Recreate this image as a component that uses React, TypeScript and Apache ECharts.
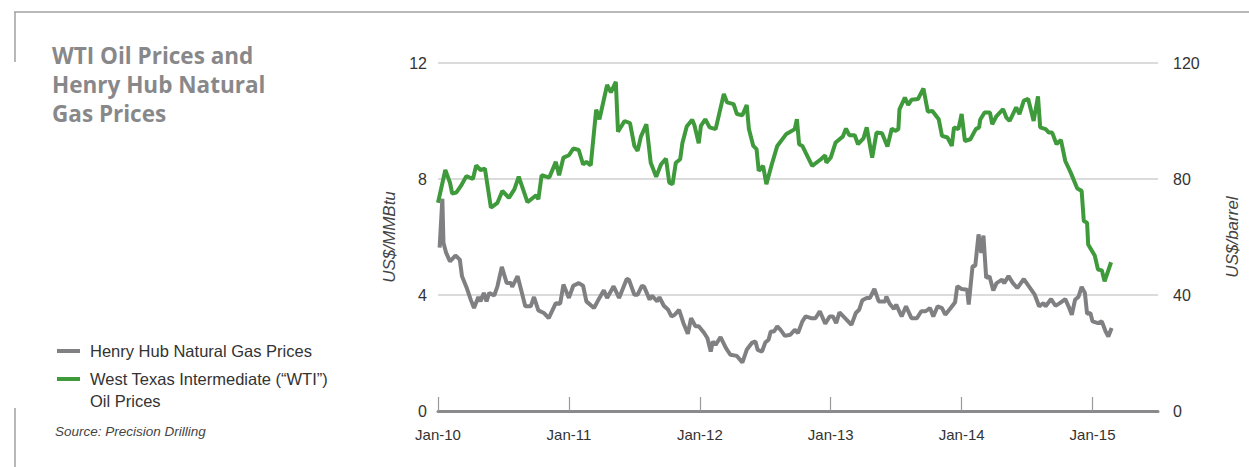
import React, { useEffect, useRef } from "react";
import * as echarts from "echarts";

// Months since Jan 2010
const xTickMonths = [0, 12, 24, 36, 48, 60];
const xTickLabels = ["Jan-10", "Jan-11", "Jan-12", "Jan-13", "Jan-14", "Jan-15"];

const gasMonths = [
  0.15, 0.4, 0.5, 0.75, 1.1, 1.6, 2, 2.2, 2.6, 3.0, 3.3, 3.7, 3.9, 4.2, 4.45, 4.7, 5.15, 5.45, 5.85, 6.3,
  6.7, 6.8, 7.3, 7.6, 8.0, 8.5, 8.8, 9.2, 9.7, 10.15, 10.8, 11.2, 11.5, 12, 12.4, 12.9, 13.3, 13.6, 14.3, 14.8,
  15.2, 15.5, 16.1, 16.6, 17.3, 17.5, 18, 18.3, 18.7, 18.9, 19.4, 19.6, 20.1, 20.3, 20.7, 21.1, 21.4, 21.7, 22.1, 22.5,
  22.9, 23.2, 23.6, 23.9, 24.4, 24.7, 25, 25.2, 25.45, 25.9, 26.4, 26.8, 27.4, 27.9, 28.3, 28.8, 29.1, 29.3, 29.7, 30,
  30.3, 30.5, 30.8, 31.1, 31.4, 31.8, 32.3, 32.7, 33, 33.4, 33.7, 34.2, 34.6, 35, 35.5, 35.9, 36.2, 36.5, 36.8, 37.4,
  37.9, 38.3, 38.6, 38.9, 39.3, 39.6, 40, 40.4, 41, 41.1, 41.4, 41.8, 42, 42.5, 42.9, 43.4, 43.9, 44.3, 44.7, 45.1,
  45.4, 45.8, 46.2, 46.5, 47, 47.4, 47.6, 48, 48.5, 48.65, 49, 49.25, 49.55, 49.8, 50, 50.25, 50.55, 50.9, 51.2, 51.7,
  51.9, 52.3, 52.7, 53.1, 53.7, 54.2, 54.7, 55.1, 55.5, 55.7, 56.2, 56.6, 57, 57.5, 57.8, 58.1, 58.4, 58.7, 59, 59.3,
  59.5, 59.8, 60, 60.5, 60.85, 61.2, 61.45, 61.75,
];
const gasValues = [
  5.63, 7.32, 5.8, 5.45, 5.16, 5.36, 5.22, 4.65, 4.28, 3.84, 3.55, 3.93, 3.78, 4.07, 3.78, 4.07, 3.98, 4.3, 4.97, 4.41,
  4.41, 4.28, 4.65, 4.21, 3.61, 3.61, 3.93, 3.47, 3.38, 3.2, 3.72, 3.7, 4.36, 3.9, 4.32, 4.41, 4.32, 3.78, 3.55, 3.9,
  4.16, 3.9, 4.3, 3.9, 4.55, 4.53, 4.01, 4.01, 4.32, 4.28, 3.84, 3.98, 3.78, 3.93, 3.63, 3.49, 3.26, 3.32, 3.49, 3.03,
  2.66, 3.2, 2.92, 2.92, 2.69, 2.51, 2.05, 2.4, 2.28, 2.55, 2.17, 1.94, 1.9, 1.67, 2.11, 2.36, 2.4, 2.11, 2.05, 2.36,
  2.46, 2.74, 2.74, 2.92, 2.8, 2.59, 2.63, 2.8, 2.69, 3.09, 3.26, 3.2, 3.2, 3.44, 3.01, 3.26, 3.26, 3.03, 3.4, 3.17,
  2.97, 3.38, 3.49, 3.82, 3.9, 3.9, 4.21, 3.78, 3.78, 3.95, 3.7, 3.52, 3.67, 3.26, 3.61, 3.2, 3.2, 3.44, 3.44, 3.55,
  3.26, 3.61, 3.55, 3.32, 3.55, 3.75, 4.3, 4.21, 4.18, 3.67, 4.99, 5.01, 6.09, 5.45, 6.05, 4.59, 4.65, 4.16, 4.41, 4.53,
  4.41, 4.65, 4.41, 4.24, 4.55, 4.28, 4.01, 3.61, 3.72, 3.61, 3.86, 3.63, 3.72, 3.86, 3.61, 3.32, 3.84, 3.93, 4.28, 4.07,
  3.35, 3.38, 3.09, 3.03, 3.09, 2.74, 2.57, 2.86,
];

const oilMonths = [
  0, 0.67, 1.1, 1.3, 1.67, 2.1, 2.6, 3.2, 3.5, 3.9, 4.3, 4.85, 5.45, 5.9, 6.5, 7.0, 7.4, 8.2, 9.0, 9.2,
  9.5, 10.2, 10.8, 11.1, 11.5, 12, 12.4, 12.9, 13.3, 13.6, 14, 14.5, 14.8, 15.5, 15.85, 16.3, 16.5, 17.1, 17.6, 18,
  18.3, 18.6, 19.1, 19.5, 20, 20.45, 20.9, 21.2, 21.5, 21.8, 22.2, 22.4, 22.8, 23.3, 23.5, 23.9, 24.1, 24.5, 24.9, 25.45,
  26.2, 26.5, 27.1, 27.4, 27.9, 28.3, 28.5, 28.9, 29.2, 29.4, 29.8, 30.1, 30.6, 31.1, 31.9, 32.7, 32.9, 33.1, 33.4, 33.7,
  34.3, 35.1, 35.5, 35.6, 36, 36.45, 37.1, 37.4, 37.7, 38.2, 38.5, 39, 39.3, 39.8, 40.2, 40.7, 41.2, 41.6, 41.9, 42.2,
  42.3, 42.8, 43.1, 43.4, 44, 44.5, 44.9, 45.3, 45.9, 46.2, 46.7, 47.1, 47.3, 47.7, 48, 48.3, 48.8, 49.3, 49.6, 49.7,
  50.1, 50.6, 50.8, 51.2, 51.8, 52.1, 52.4, 53, 53.3, 53.7, 54.1, 54.6, 55, 55.2, 55.7, 56, 56.3, 56.7, 57.1, 57.5,
  58, 58.6, 59, 59.2, 59.5, 59.6, 60.2, 60.5, 60.85, 61.1, 61.7,
];
const oilValues = [
  71.8, 83.1, 78.7, 75, 75.3, 77.6, 81, 80, 84.7, 83.1, 83.6, 70.1, 71.8, 75.9, 73.5, 76.4, 80.8, 72, 74.4, 73,
  81.3, 80.5, 85.9, 81.3, 87.4, 88.2, 90.5, 90, 85, 85.9, 84.7, 103.9, 100.6, 112.4, 109.9, 113.5, 96.3, 100, 99.3, 91.4,
  89.7, 94.6, 98.9, 85.6, 80.8, 85.1, 87, 78.7, 78.2, 85.6, 86.8, 92.3, 98.1, 100.4, 98.6, 92.3, 98.3, 100.6, 97.8, 97.2,
  109.3, 106.4, 105.8, 102.4, 102, 105.5, 97.2, 91.4, 90.3, 82.8, 84.5, 78.2, 85.1, 91.4, 95.4, 97.2, 100.6, 92, 91.4, 89.1,
  84.5, 86.8, 88.2, 85.6, 87.4, 92.6, 94.6, 97.4, 95.1, 95.1, 92, 94, 97.8, 87.4, 96, 95.8, 91.2, 97.4, 96.6, 97.2,
  104, 108.1, 105.5, 107.3, 107.6, 111.2, 103.2, 103.5, 100.6, 94.9, 94.3, 91.4, 97.8, 97.2, 102.4, 93.1, 93.7, 97.2, 97.8, 100.4,
  102.9, 102.9, 98.9, 101.7, 104.1, 101.2, 100, 104.7, 102.4, 107, 107.6, 100, 108.5, 97.8, 97.2, 96, 96, 92, 93.5, 86.2,
  82.2, 76.7, 75.9, 65.5, 64.9, 57.4, 53.6, 48.8, 48.5, 44.7, 51.3,
];

const leftTicks = [0, 4, 8, 12];
const rightTicks = [0, 40, 80, 120];

const GAS_COLOR = "#808083";
const OIL_COLOR = "#3f9a3b";
const FONT = "'Liberation Sans', Arial, sans-serif";

export default function App() {
  const ref = useRef<HTMLDivElement>(null);
  useEffect(() => {
    document.documentElement.style.overflow = "hidden";
    document.body.style.margin = "0";
    if (!ref.current) return;
    const chart = echarts.init(ref.current, undefined, { renderer: "svg" });
    const gasData = gasMonths.map((m, i) => [m, gasValues[i]]);
    const oilData = oilMonths.map((m, i) => [m, oilValues[i]]);
    chart.setOption({
      animation: false,
      backgroundColor: "#ffffff",
      title: {
        text: "WTI Oil Prices and\nHenry Hub Natural\nGas Prices",
        left: 47,
        top: 36,
        textStyle: {
          fontFamily: "'Open Sans', 'Noto Sans', sans-serif",
          fontWeight: "bold",
          fontSize: 22.5,
          lineHeight: 28.8,
          color: "#88888a",
        },
      },
      grid: { left: 438, right: 83, top: 63, bottom: 56, containLabel: false },
      xAxis: {
        type: "value",
        min: 0,
        max: 66,
        interval: 12,
        axisLine: { show: true, lineStyle: { color: "#8a8a8c", width: 3 } },
        axisTick: {
          show: true,
          inside: true,
          length: 14,
          customValues: xTickMonths,
          lineStyle: { color: "#9a9a9a", width: 1.2 },
        },
        axisLabel: {
          customValues: xTickMonths,
          formatter: (v: number) => xTickLabels[xTickMonths.indexOf(v)] ?? "",
          color: "#333",
          fontSize: 15,
          fontFamily: FONT,
          margin: 16,
        },
        splitLine: { show: false },
      },
      yAxis: [
        {
          type: "value",
          min: leftTicks[0],
          max: leftTicks[leftTicks.length - 1],
          interval: 4,
          position: "left",
          name: "US$/MMBtu",
          nameLocation: "middle",
          nameRotate: 90,
          nameGap: 40,
          nameTextStyle: { fontStyle: "italic", fontSize: 17, color: "#444", fontFamily: FONT },
          axisLine: { show: false },
          axisTick: { show: false },
          axisLabel: { color: "#333", fontSize: 16, fontFamily: FONT, margin: 11 },
          splitLine: { show: true, lineStyle: { color: "#cfcfcf", width: 1.5 } },
        },
        {
          type: "value",
          min: rightTicks[0],
          max: rightTicks[rightTicks.length - 1],
          interval: 40,
          position: "right",
          name: "US$/barrel",
          nameLocation: "middle",
          nameRotate: 90,
          nameGap: 66,
          nameTextStyle: { fontStyle: "italic", fontSize: 17, color: "#444", fontFamily: FONT },
          axisLine: { show: false },
          axisTick: { show: false },
          axisLabel: { color: "#333", fontSize: 16, fontFamily: FONT, margin: 15 },
          splitLine: { show: false },
        },
      ],
      series: [
        {
          name: "Henry Hub Natural Gas Prices",
          type: "line",
          yAxisIndex: 0,
          data: gasData,
          showSymbol: false,
          lineStyle: { color: GAS_COLOR, width: 4 },
          itemStyle: { color: GAS_COLOR },
          z: 3,
        },
        {
          name: "West Texas Intermediate (“WTI”) Oil Prices",
          type: "line",
          yAxisIndex: 1,
          data: oilData,
          showSymbol: false,
          lineStyle: { color: OIL_COLOR, width: 4 },
          itemStyle: { color: OIL_COLOR },
          z: 4,
        },
      ],
      graphic: [
        { type: "line", shape: { x1: 14, y1: 12, x2: 1249, y2: 12 }, style: { stroke: "#a0a0a0", lineWidth: 1.5 } },
        { type: "line", shape: { x1: 15, y1: 12, x2: 15, y2: 62 }, style: { stroke: "#a0a0a0", lineWidth: 1.5 } },
        { type: "line", shape: { x1: 15, y1: 408, x2: 15, y2: 467 }, style: { stroke: "#a0a0a0", lineWidth: 1.5 } },
        { type: "line", shape: { x1: 57, y1: 351, x2: 80, y2: 351 }, style: { stroke: GAS_COLOR, lineWidth: 4 } },
        {
          type: "text",
          left: 90,
          top: 342,
          style: { text: "Henry Hub Natural Gas Prices", fontSize: 16.5, fill: "#333", fontFamily: FONT },
        },
        { type: "line", shape: { x1: 57, y1: 379, x2: 80, y2: 379 }, style: { stroke: OIL_COLOR, lineWidth: 4 } },
        {
          type: "text",
          left: 90,
          top: 368,
          style: {
            text: "West Texas Intermediate (“WTI”)\nOil Prices",
            fontSize: 16.5,
            lineHeight: 22,
            fill: "#333",
            fontFamily: FONT,
          },
        },
        {
          type: "text",
          left: 55,
          top: 424,
          style: {
            text: "Source: Precision Drilling",
            fontSize: 13.5,
            fontStyle: "italic",
            fill: "#444",
            fontFamily: FONT,
          },
        },
      ],
    });
    return () => chart.dispose();
  }, []);
  return (
    <div
      ref={ref}
      style={{ position: "absolute", left: 0, top: 0, width: 1249, height: 467 }}
    />
  );
}
